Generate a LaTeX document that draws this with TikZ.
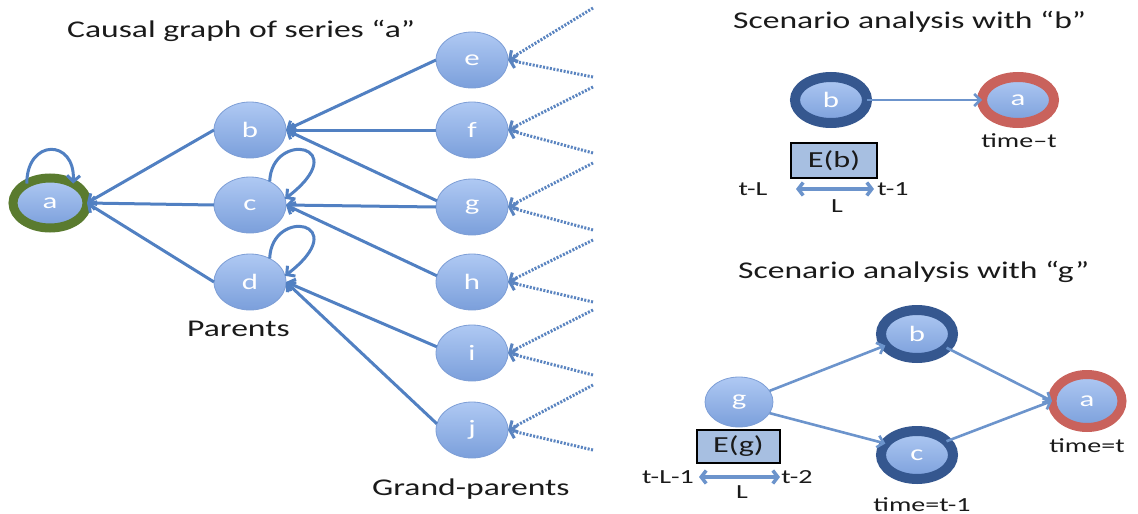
\documentclass[tikz,border=0pt]{standalone}
\usepackage{fontspec}
\setmainfont{Carlito}[FakeStretch=1.4]
\usetikzlibrary{shapes.geometric,arrows.meta}
\definecolor{ndtop}{HTML}{AFC9F3}
\definecolor{ndbot}{HTML}{7B9FDB}
\definecolor{ndline}{HTML}{7D9ED6}
\definecolor{edgecol}{HTML}{5180C2}
\definecolor{dotcol}{HTML}{5A84C0}
\definecolor{cGreen}{HTML}{5A7B2F}
\definecolor{cDark}{HTML}{35578F}
\definecolor{cRed}{HTML}{C9625C}
\definecolor{sarcol}{HTML}{6C94CC}
\definecolor{boxfill}{HTML}{A7BFE1}
\definecolor{txt}{HTML}{1A1A1A}
\begin{document}
\begin{tikzpicture}[x=1pt,y=-1pt,
  nd/.style={ellipse, inner sep=0pt, outer sep=0pt, minimum width=72pt, minimum height=56pt,
    top color=ndtop, bottom color=ndbot, draw=ndline, line width=0.8pt, text=white,
    font=\fontsize{22}{22}\selectfont},
  ringgreen/.style={nd, draw=cGreen, line width=9pt, minimum width=74pt, minimum height=50pt},
  ringdark/.style={nd, draw=cDark, line width=10pt, minimum width=72pt, minimum height=46pt},
  ringred/.style={nd, draw=cRed, line width=10pt, minimum width=72pt, minimum height=46pt},
  ringredbig/.style={nd, draw=cRed, line width=9pt, minimum width=70pt, minimum height=53pt},
  edge/.style={draw=edgecol, line width=3pt, -{Straight Barb[length=6pt,width=13pt]}},
  dotline/.style={draw=dotcol, line width=3pt, dash pattern=on 2pt off 1.5pt,
    -{Straight Barb[length=6pt,width=13pt]}},
  sarrow/.style={draw=sarcol, line width=2.6pt, -{Straight Barb[length=6pt,width=12pt]}},
  dbl/.style={draw=sarcol, line width=3.5pt, {Straight Barb[length=5pt,width=13pt]}-{Straight Barb[length=5pt,width=13pt]}},
  title/.style={inner sep=0pt, text=txt, font=\fontsize{24}{24}\selectfont},
  lbl/.style={inner sep=0pt, text=txt, font=\fontsize{20}{20}\selectfont},
  ebox/.style={rectangle, draw=black, line width=2.8pt, fill=boxfill, inner sep=0pt,
    text=txt, font=\fontsize{23}{23}\selectfont},
]
\useasboundingbox (0,0) rectangle (1138,514);

% ---------------- Left: causal graph ----------------
\node[title, anchor=base west] (t1) at (67,37) {Causal graph of series “a”};
\node[title, anchor=base west] (par) at (187,336) {Parents};
\node[title, anchor=base west] (gp) at (372,495) {Grand-parents};

\node[ringgreen] (a) at (50,203) {a};
\node[nd] (b) at (250,130) {b};
\node[nd] (c) at (250,205) {c};
\node[nd] (d) at (250,282) {d};
\node[nd] (e) at (472,60) {e};
\node[nd] (f) at (472,130) {f};
\node[nd] (g) at (472,207) {g};
\node[nd] (h) at (472,282) {h};
\node[nd] (i) at (472,353) {i};
\node[nd] (j) at (472,430) {j};

% parents -> a
\draw[edge] (b.west) -- (a.east);
\draw[edge] (c.west) -- (a.east);
\draw[edge] (d.west) -- (a.east);
% self loops
\draw[edge] (a.140) .. controls +(0,-45) and +(2,-45) .. (a.40);
\draw[edge] (c.50) .. controls +(2,-52) and +(70,-54) .. (c.10);
\draw[edge] (d.50) .. controls +(2,-52) and +(70,-54) .. (d.10);
% grand-parents -> parents
\draw[edge] (e.west) -- (b.east);
\draw[edge] (f.west) -- (b.east);
\draw[edge] (g.170) -- (b.east);
\draw[edge] (g.west) -- (c.east);
\draw[edge] (h.170) -- (c.east);
\draw[edge] (i.170) -- (d.east);
\draw[edge] (j.170) -- (d.east);

% dotted incoming arrows
\coordinate (e1) at (593,8);   \coordinate (e2) at (593,77);
\coordinate (f1) at (593,87);  \coordinate (f2) at (593,153);
\coordinate (g1) at (593,163); \coordinate (g2) at (593,230);
\coordinate (h1) at (593,240); \coordinate (h2) at (593,302);
\coordinate (i1) at (593,310); \coordinate (i2) at (593,375);
\coordinate (j1) at (593,385); \coordinate (j2) at (593,450);
\foreach \n in {e,f,g,h,i,j}{
  \draw[dotline] (\n1) -- (\n.east);
  \draw[dotline] (\n2) -- (\n.east);
}

% ---------------- Right top: scenario with b ----------------
\node[title, anchor=base west] (t2) at (733,28) {Scenario analysis with “b”};
\node[ringdark] (b1) at (831,100) {b};
\node[ringred] (a1) at (1018,100) {a};
\draw[sarrow] (b1.east) -- (a1.west);
\node[lbl, anchor=base] (tm1) at (1019,147) {time–t};
\node[ebox, minimum width=86pt, minimum height=35pt] (Eb) at (834,160.5) {E(b)};
\coordinate (lb1) at (796,189);
\coordinate (rb1) at (874,189);
\draw[dbl] (lb1) -- (rb1);
\node[lbl, anchor=base] (tL1) at (753,195) {t-L};
\node[lbl, anchor=base] (t11) at (893,195) {t-1};
\node[lbl, anchor=base] (L1) at (837,212) {L};

% ---------------- Right bottom: scenario with g ----------------
\node[title, anchor=base west] (t3) at (738,278) {Scenario analysis with “g”};
\node[nd, minimum width=68pt, minimum height=50pt] (g3) at (739,402) {g};
\node[ringdark, minimum height=48pt] (b3) at (917,334) {b};
\node[ringdark, minimum height=48pt] (c3) at (917,455) {c};
\node[ringredbig] (a3) at (1087,401) {a};
\draw[sarrow] (g3.20) -- (b3.200);
\draw[sarrow] (g3.-20) -- (c3.160);
\draw[sarrow] (b3.-25) -- (a3.west);
\draw[sarrow] (c3.25) -- (a3.west);
\node[ebox, minimum width=83pt, minimum height=33pt] (Eg) at (738.5,446.5) {E(g)};
\coordinate (lb2) at (699,477);
\coordinate (rb2) at (780,477);
\draw[dbl] (lb2) -- (rb2);
\node[lbl, anchor=base] (tL2) at (668,483) {t-L-1};
\node[lbl, anchor=base] (t22) at (797,483) {t-2};
\node[lbl, anchor=base] (L2) at (742,498) {L};
\node[lbl, anchor=base] (tm2) at (922,511) {time=t-1};
\node[lbl, anchor=base] (tm3) at (1087,452) {time=t};
\end{tikzpicture}
\end{document}
